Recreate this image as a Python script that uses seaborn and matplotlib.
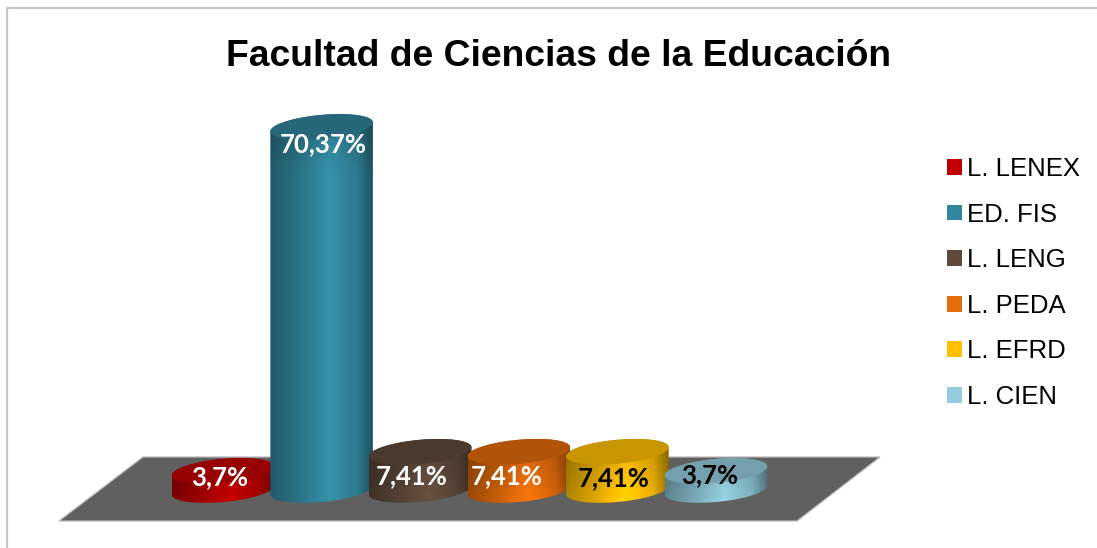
import matplotlib
matplotlib.use("Agg")
import matplotlib.pyplot as plt
import numpy as np
import pandas as pd
import seaborn as sns
from matplotlib.colors import to_rgb
from matplotlib.lines import Line2D
from matplotlib.patches import Patch, Polygon

categorias = ["L. LENEX", "ED. FIS", "L. LENG", "L. PEDA", "L. EFRD", "L. CIEN"]
valores = [3.7, 70.37, 7.41, 7.41, 7.41, 3.7]
etiquetas = ["3,7%", "70,37%", "7,41%", "7,41%", "7,41%", "3,7%"]
colores = ["#c00000", "#31859c", "#604a3b", "#e46c0a", "#ffc000", "#93cddd"]
color_texto = ["white", "white", "white", "white", "black", "black"]

# desplazamiento de cada etiqueta en pixeles, respecto a la cima de la barra
despl_x = [-3, 2, -9, -12, -4, -6]
despl_y = [-6, -17, -24, -24, -26, -4]

W, H = 1097, 548
PX_X = 98.6      # pixeles entre categorias
PX_Y = 5.16      # pixeles por punto porcentual
X0, Y0 = 223, 490  # pixel de la primera categoria y de la base

sns.set_theme(style="white")
plt.rcParams["font.family"] = ["Liberation Sans", "DejaVu Sans"]

fig = plt.figure(figsize=(W / 100, H / 100), dpi=100, facecolor="white")
ax = fig.add_axes([0, 0, 1, 1])

df = pd.DataFrame({"carrera": categorias, "pct": valores})
sns.barplot(data=df, x="carrera", y="pct", hue="carrera", palette=colores,
            width=1.04, dodge=False, legend=False, ax=ax)

xlim = (-X0 / PX_X, (W - X0) / PX_X)
ylim = ((Y0 - H) / PX_Y, Y0 / PX_Y)


def px(x, y):
    return x / W, 1 - y / H


# marco del grafico (solo se ve arriba y a la izquierda)
fig.add_artist(Line2D([px(7, 0)[0], px(7, 0)[0], 1], [0, px(0, 8)[1], px(0, 8)[1]],
                      transform=fig.transFigure, color="#c8c8c8", lw=1.6))

# suelo
suelo = [px(59, 521), px(143, 457), px(880, 457), px(797, 521)]
ax.add_patch(Polygon(suelo, closed=True, transform=fig.transFigure, facecolor="#606060",
                     edgecolor="#b8b8b8", lw=0.9, zorder=1))

b = 12 / PX_Y
incl = 4.5 / PX_Y
barras = [r for c in ax.containers for r in c]
for i, r in enumerate(barras):
    r.set_visible(False)
    x0, x1 = r.get_x(), r.get_x() + r.get_width()
    cx, a = (x0 + x1) / 2, (x1 - x0) / 2
    alto = r.get_height()
    z = 3 + i * 2

    t1 = np.linspace(np.pi, 2 * np.pi, 60)
    t2 = np.linspace(0, np.pi, 60)
    abajo = np.c_[cx + a * np.cos(t1), b * np.sin(t1) + incl * np.cos(t1)]
    arriba = np.c_[cx + a * np.cos(t2), alto + b * np.sin(t2) + incl * np.cos(t2)]
    cuerpo = Polygon(np.r_[abajo, arriba], closed=True, transform=ax.transData,
                     facecolor="none", edgecolor="none", zorder=z)
    ax.add_patch(cuerpo)

    # sombreado horizontal del cilindro, algo mas oscuro cerca de la tapa
    base = np.array(to_rgb(colores[i]))
    u = np.linspace(0, 1, 120)
    luz = np.interp(u, [0, 0.3, 0.58, 0.85, 1], [0.68, 0.88, 1.1, 0.92, 0.62])
    yy = np.linspace(alto + b * 1.5, -b * 1.5, 200)
    vert = np.interp((alto - yy) * PX_Y, [0, 45], [0.86, 1.0])
    grad = np.clip(base[None, None, :] * (vert[:, None] * luz[None, :])[:, :, None], 0, 1)
    im = ax.imshow(grad, extent=(x0, x1, -b * 1.5, alto + b * 1.5), aspect="auto", zorder=z)
    im.set_clip_path(cuerpo)

    t = np.linspace(0, 2 * np.pi, 120)
    tapa = np.c_[cx + a * np.cos(t), alto + b * np.sin(t) + incl * np.cos(t)]
    ax.add_patch(Polygon(tapa, closed=True, facecolor=base * 0.78, edgecolor="none", zorder=z + 1))

for i, r in enumerate(barras):
    ax.annotate(etiquetas[i], (r.get_x() + r.get_width() / 2, r.get_height()),
                xytext=(despl_x[i], despl_y[i]), textcoords="offset pixels",
                ha="center", va="center", fontsize=18.5, fontweight="bold", family="Lato",
                color=color_texto[i], zorder=30)

ax.set_xlim(*xlim)
ax.set_ylim(*ylim)
ax.axis("off")

fig.text(px(559, 0)[0], px(0, 56)[1], "Facultad de Ciencias de la Educación", ha="center", va="center",
         fontsize=26.8, fontweight="bold", color="black")

handles = [Patch(facecolor=c, edgecolor="none") for c in colores]
fig.legend(handles, categorias, loc="center left", bbox_to_anchor=(px(924, 0)[0], px(0, 283)[1]),
           frameon=False, fontsize=18.5, handlelength=0.56, handleheight=0.56, handletextpad=0.2,
           labelspacing=0.84, labelcolor="black")

fig.savefig("out.png", dpi=100)
